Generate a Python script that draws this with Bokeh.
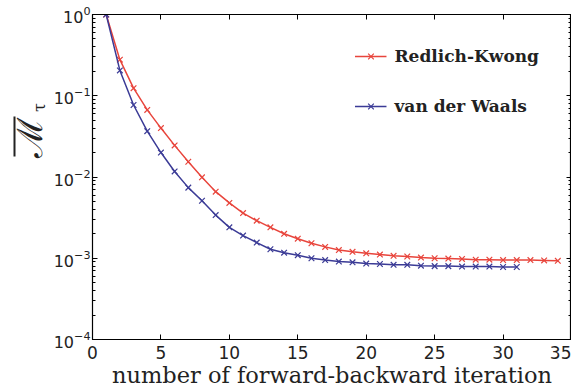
import math
from bokeh.plotting import figure
from bokeh.layouts import row
from bokeh.models import (Legend, LegendItem, Label, LinearAxis, LogAxis,
                          FixedTicker, Range1d, BoxAnnotation)
from bokeh.embed import file_html
from bokeh.resources import INLINE

# convergence of the mean residual per forward-backward iteration
rk_iter = list(range(1, 35))
rk_vals = [1.0, 0.278, 0.124, 0.067, 0.040, 0.0245, 0.0154, 0.0099, 0.0066,
           0.0048, 0.0036, 0.0029, 0.0024, 0.0020, 0.00174, 0.00153, 0.00138,
           0.00126, 0.00120, 0.00115, 0.00111, 0.00107, 0.00105, 0.00102,
           0.00100, 0.00099, 0.00098, 0.00096, 0.00096, 0.00095, 0.00095,
           0.00095, 0.00094, 0.00093]

vdw_iter = list(range(1, 32))
vdw_vals = [1.0, 0.205, 0.077, 0.0366, 0.020, 0.0117, 0.0074, 0.0051, 0.0034,
            0.0024, 0.0019, 0.00156, 0.00129, 0.00117, 0.00109, 0.00100,
            0.00095, 0.00091, 0.00089, 0.00086, 0.00085, 0.00083, 0.00083,
            0.00081, 0.00080, 0.00080, 0.00079, 0.00079, 0.00079, 0.00078,
            0.00078]

x_ticks = [0, 5, 10, 15, 20, 25, 30, 35]
y_ticks = [1e-4, 1e-3, 1e-2, 1e-1, 1.0]
y_minor = [k * 10.0 ** e for e in range(-4, 0) for k in range(2, 10)]

RED = "#e8453c"
BLUE = "#3b3b96"
TICK_FONT = "DejaVu Sans"
SERIF = "DejaVu Serif"
INK = "#222222"

LABEL_W = 50

# narrow panel holding the rotated y-axis symbol
lab = figure(width=LABEL_W, height=390, x_range=Range1d(0, LABEL_W),
             y_range=Range1d(0, 390), output_backend="svg",
             toolbar_location=None, min_border=0)
lab.axis.visible = False
lab.grid.visible = False
lab.outline_line_color = None
lab.border_fill_color = "white"
lab.add_layout(Label(x=29, y=202, x_units="screen", y_units="screen",
                     text="\u2133", angle=math.pi / 2,
                     text_font=SERIF, text_font_size="35px",
                     text_color=INK, text_align="center",
                     text_baseline="middle"))
lab.add_layout(Label(x=39, y=232, x_units="screen", y_units="screen",
                     text="\u03c4", angle=math.pi / 2,
                     text_font=SERIF, text_font_size="16px",
                     text_color=INK, text_align="center",
                     text_baseline="middle"))
lab.add_layout(BoxAnnotation(left=13, right=15, bottom=183, top=223,
                             left_units="screen", right_units="screen",
                             bottom_units="screen", top_units="screen",
                             fill_color=INK, fill_alpha=1.0, line_color=None))

p = figure(width=571 - LABEL_W, height=390, y_axis_type="log",
           x_range=Range1d(0, 35), y_range=Range1d(1e-4, 1.0),
           output_backend="svg", toolbar_location=None,
           min_border_left=92 - LABEL_W, min_border_right=0,
           min_border_top=14, min_border_bottom=49)
p.xgrid.visible = False
p.ygrid.visible = False
p.outline_line_color = "black"
p.outline_line_width = 1.2
p.background_fill_color = "white"
p.border_fill_color = "white"

r_rk = p.line(rk_iter, rk_vals, line_color=RED, line_width=1.5)
m_rk = p.scatter(rk_iter, rk_vals, marker="x", size=8, line_color=RED, line_width=1.2)
r_vdw = p.line(vdw_iter, vdw_vals, line_color=BLUE, line_width=1.5)
m_vdw = p.scatter(vdw_iter, vdw_vals, marker="x", size=8, line_color=BLUE, line_width=1.2)

def style_axis(ax):
    ax.major_tick_in = 5
    ax.major_tick_out = 0
    ax.minor_tick_in = 3
    ax.minor_tick_out = 0
    ax.axis_line_color = "black"
    ax.major_tick_line_color = "black"
    ax.minor_tick_line_color = "black"
    ax.major_label_text_font = TICK_FONT
    ax.major_label_text_font_size = "16px"
    ax.major_label_text_color = INK
    ax.major_label_standoff = 2

xa = p.xaxis[0]
xa.ticker = FixedTicker(ticks=x_ticks)
style_axis(xa)
xa.major_label_text_font_size = "17px"
xa.major_label_standoff = 6
xa.axis_label = "number of forward-backward iteration"
xa.axis_label_text_font = SERIF
xa.axis_label_text_font_style = "normal"
xa.axis_label_text_font_size = "22.5px"
xa.axis_label_text_color = INK
xa.axis_label_standoff = 0

ya = p.yaxis[0]
ya.ticker = FixedTicker(ticks=y_ticks, minor_ticks=y_minor)
style_axis(ya)

# mirrored tick-only axes on the top and right edges
top = LinearAxis(ticker=FixedTicker(ticks=x_ticks, minor_ticks=[]))
style_axis(top)
top.major_label_overrides = {t: "" for t in x_ticks}
top.major_label_text_font_size = "1px"
top.major_label_standoff = 0
p.add_layout(top, "above")

right = LogAxis(ticker=FixedTicker(ticks=y_ticks, minor_ticks=y_minor))
style_axis(right)
right.major_label_overrides = {t: "" for t in y_ticks}
right.major_label_text_font_size = "1px"
right.major_label_standoff = 0
p.add_layout(right, "right")

legend = Legend(items=[LegendItem(label="Redlich-Kwong", renderers=[r_rk, m_rk]),
                       LegendItem(label="van der Waals", renderers=[r_vdw, m_vdw])],
                location="top_right")
legend.border_line_color = None
legend.background_fill_alpha = 0
legend.label_text_font = SERIF
legend.label_text_font_size = "17px"
legend.label_text_font_style = "bold"
legend.label_text_color = INK
legend.glyph_width = 32
legend.glyph_height = 20
legend.label_height = 20
legend.label_standoff = 8
legend.spacing = 30
legend.padding = 0
legend.margin = 32
p.add_layout(legend)

layout = row(lab, p, spacing=0)
open("out.html", "w").write(file_html(layout, INLINE))
